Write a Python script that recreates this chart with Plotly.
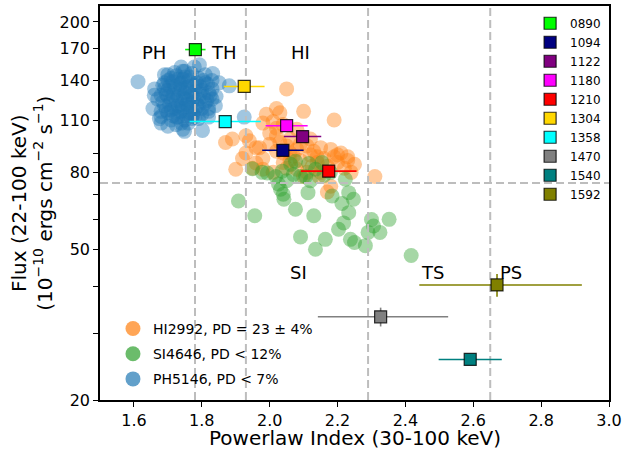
import numpy as np
import plotly.graph_objects as go

# ---- scatter clouds: powerlaw index vs 22-100 keV flux (1e-10 erg/cm2/s) ----
hi_index = [2.05, 2.02, 2.03, 2.10, 2.19, 1.98, 2.01, 1.87, 1.89, 1.94, 1.97, 1.92,
            1.90, 1.98, 2.02, 2.06, 2.11, 2.15, 2.21, 2.19, 2.25, 2.31, 2.14, 2.18,
            2.17, 2.08, 2.11, 2.04, 1.98, 2.01, 1.96, 2.145, 2.10, 2.125, 2.07, 2.05,
            2.00, 2.02, 1.99, 1.93, 1.96, 2.04, 2.08, 2.06, 2.12, 2.16, 2.20, 2.03, 1.95,
            2.06, 2.09, 2.13, 2.17, 2.20, 2.23, 2.05, 2.09, 2.14, 2.18, 2.24, 2.12,
            2.02, 2.00, 1.93, 2.08, 2.04, 2.15, 2.22, 2.23]
hi_flux = [133, 118, 115, 116, 110, 108, 109, 96, 98, 97, 93, 87,
           81.5, 87, 100, 98, 94, 93, 90, 88, 84, 78, 85, 73.5,
           71, 81.5, 80, 85, 81.5, 80, 84.7, 78, 78, 83, 88.4, 94,
           101.6, 104.7, 114, 90, 93, 90, 92, 86, 89, 87, 85, 96, 82,
           90, 86, 91, 83, 89, 86, 82, 95, 88, 92, 80, 98,
           91, 95, 100, 104, 107, 80, 82, 88]

si_index = [1.949, 1.993, 2.018, 2.037, 2.076, 2.115, 2.154, 2.135, 2.106, 2.179,
            2.032, 2.042, 2.076, 2.113, 1.908, 1.956, 2.130, 2.091, 2.164, 2.135,
            2.223, 2.184, 2.233, 2.247, 2.213, 2.233, 2.218, 2.203, 2.238, 2.250,
            2.282, 2.306, 2.325, 2.352, 2.417, 2.062, 1.978, 2.091, 2.026, 2.05,
            2.07, 2.12, 2.16, 2.30, 2.29, 2.04]
si_flux = [81.8, 79.7, 78, 80.6, 85.6, 84.4, 85, 81.5, 78, 80,
           72.2, 67.9, 63.9, 70.7, 67.2, 61.4, 61.4, 54, 53.2, 50.1,
           76.7, 69.3, 70.7, 67.9, 66.2, 62.6, 58.8, 56.6, 53.2, 52.2,
           51.2, 57.7, 55.5, 60.1, 48.2, 84, 80, 78, 74.5, 76,
           79, 76, 78.5, 60, 55.5, 70]

ph_index = [1.612, 1.690, 1.744, 1.778, 1.832, 1.851, 1.881, 1.661, 1.656, 1.675,
            1.700, 1.749, 1.802, 1.925, 1.820, 1.842, 1.817, 1.739, 1.793, 1.680,
            1.724, 1.744,
            1.68, 1.70, 1.72, 1.74, 1.76, 1.78, 1.80, 1.69, 1.71, 1.73,
            1.75, 1.77, 1.79, 1.81, 1.70, 1.72, 1.74, 1.76, 1.78, 1.80,
            1.73, 1.75, 1.77, 1.71, 1.75, 1.73, 1.79, 1.82, 1.83, 1.67,
            1.69, 1.71, 1.77, 1.81, 1.74, 1.76, 1.72, 1.78, 1.70, 1.74,
            1.75, 1.73, 1.77, 1.79, 1.71, 1.76, 1.68, 1.80, 1.82, 1.75,
            1.72, 1.78, 1.74, 1.69, 1.66, 1.84, 1.83, 1.81, 1.70,
            1.685, 1.695, 1.705, 1.715, 1.725, 1.735, 1.745, 1.755, 1.765, 1.775,
            1.785, 1.795, 1.805, 1.815, 1.825, 1.705, 1.715, 1.735, 1.755, 1.765,
            1.745, 1.725, 1.695, 1.785, 1.765, 1.735, 1.715, 1.755, 1.795, 1.805,
            1.685, 1.745, 1.775, 1.725, 1.79, 1.76, 1.70, 1.82, 1.83, 1.68]
ph_flux = [139, 145, 148, 152, 146, 138, 135.5, 133, 118, 111,
           106, 102.7, 103.3, 112, 116, 127, 137, 152, 154, 112.5,
           107, 104,
           128, 132, 135, 138, 140, 136, 132, 120, 124, 127,
           130, 128, 125, 122, 115, 118, 121, 119, 117, 114,
           112, 110, 111, 110, 143, 141, 142, 130, 125, 125,
           138, 142, 146, 138, 116, 124, 130, 131, 127, 133,
           125, 120, 122, 120, 117, 135, 116, 118, 118, 148,
           147, 112, 108, 133, 128, 120, 133, 145, 145,
           123, 129, 135, 139, 144, 132, 126, 121, 115, 126,
           138, 129, 127, 124, 128, 121, 113, 116, 113, 131,
           141, 124, 117, 121, 143, 137, 128, 134, 135, 140,
           136, 118, 114, 112, 111, 108, 140, 112, 140, 108]

# ---- individual observations with 1-sigma errors ----
obs_ids = ["0890", "1094", "1122", "1180", "1210", "1304", "1358", "1470", "1540", "1592"]
obs_colors = ["#00ff00", "#000080", "#800080", "#ff00ff", "#ff0000",
              "#ffd700", "#00ffff", "#808080", "#008080", "#808000"]
obs_index = [1.781, 2.039, 2.097, 2.050, 2.174, 1.925, 1.869, 2.327, 2.591, 2.670]
obs_index_err_lo = [0.03, 0.061, 0.055, 0.062, 0.082, 0.06, 0.105, 0.185, 0.093, 0.229]
obs_index_err_hi = [0.03, 0.061, 0.055, 0.062, 0.082, 0.06, 0.105, 0.199, 0.093, 0.250]
obs_flux = [169, 91.5, 99.5, 106.3, 80.6, 135, 109, 33.2, 25.6, 40.3]
obs_flux_err = [0, 0, 0, 0, 0, 0, 0, 1.9, 0, 2.8]

# ---- state boundaries ----
boundary_index = [1.78, 1.93, 2.29, 2.65]
boundary_flux = 75

state_labels = ["PH", "TH", "HI", "SI", "TS", "PS"]
state_label_index = [1.659, 1.864, 2.091, 2.086, 2.479, 2.710]
state_label_flux = [166, 166, 166, 43.5, 43.4, 43.4]

clouds = [
    ("HI2992, PD = 23 ± 4%", "#ff7f0e", hi_index, hi_flux),
    ("SI4646, PD < 12%", "#2ca02c", si_index, si_flux),
    ("PH5146, PD < 7%", "#1f77b4", ph_index, ph_flux),
]

x_range = [1.5, 3.0]
y_range_log = [np.log10(20), 2.3431]
y_major = [20, 50, 80, 110, 140, 170, 200]
y_minor = [30, 40, 60, 70, 90]
x_ticks = [1.6, 1.8, 2.0, 2.2, 2.4, 2.6, 2.8, 3.0]

FONT = "DejaVu Sans"
fig = go.Figure()

for name, color, xs, ys in clouds:
    fig.add_trace(go.Scatter(
        x=xs, y=ys, mode="markers", showlegend=False, hoverinfo="skip",
        marker=dict(size=15, color=color, opacity=0.42, line=dict(width=0)),
    ))

dash_style = dict(color="#bdbdbd", width=2, dash="8px,4px")
y_lo, y_hi = 10 ** y_range_log[0], 10 ** y_range_log[1]
for bx in boundary_index:
    fig.add_trace(go.Scatter(x=[bx, bx], y=[y_lo, y_hi], mode="lines",
                             line=dash_style, showlegend=False, hoverinfo="skip"))
fig.add_trace(go.Scatter(x=x_range, y=[boundary_flux, boundary_flux], mode="lines",
                         line=dash_style, showlegend=False, hoverinfo="skip"))

for i, oid in enumerate(obs_ids):
    fig.add_trace(go.Scatter(
        x=[obs_index[i]], y=[obs_flux[i]], mode="markers", name=oid, legend="legend",
        marker=dict(symbol="square", size=12, color=obs_colors[i],
                    line=dict(color="rgba(0,0,0,0.8)", width=1.2)),
        error_x=dict(type="data", symmetric=False, array=[obs_index_err_hi[i]],
                     arrayminus=[obs_index_err_lo[i]], color=obs_colors[i],
                     thickness=1.6, width=0),
        error_y=dict(type="data", array=[obs_flux_err[i]], color=obs_colors[i],
                     thickness=1.6, width=0, visible=obs_flux_err[i] > 0),
    ))

for k, (name, color, xs, ys) in enumerate(clouds):
    fig.add_trace(go.Scatter(
        x=[None], y=[None], mode="markers", name=name, legend="legend2",
        legendgroup=f"g{k}",
        marker=dict(size=15, color=color, opacity=0.7, line=dict(width=0)),
    ))

annotations = []
for lab, lx, ly in zip(state_labels, state_label_index, state_label_flux):
    annotations.append(dict(x=lx, y=np.log10(ly), xref="x", yref="y", text=lab,
                            showarrow=False, font=dict(family=FONT, size=18, color="black"),
                            xanchor="center", yanchor="middle"))
annotations.append(dict(x=0.5, y=-0.097, xref="paper", yref="paper",
                        text="Powerlaw Index (30-100 keV)", showarrow=False,
                        font=dict(family=FONT, size=20, color="black"),
                        xanchor="center", yanchor="middle"))
annotations.append(dict(x=-0.134, y=0.5, xref="paper", yref="paper", textangle=-90,
                        text="Flux (22-100 keV)<br>(10<sup>−10</sup> ergs cm<sup>−2</sup> s<sup>−1</sup>)",
                        showarrow=False, font=dict(family=FONT, size=20, color="black"),
                        xanchor="center", yanchor="middle"))

axis_common = dict(showline=True, linecolor="black", linewidth=1.5, mirror=True,
                   ticks="outside", ticklen=5, tickwidth=1.2, tickcolor="black",
                   showgrid=False, zeroline=False,
                   tickfont=dict(family=FONT, size=16, color="black"))

fig.update_layout(
    width=626, height=449,
    margin=dict(l=100, r=16, t=4, b=49),
    paper_bgcolor="white", plot_bgcolor="white",
    font=dict(family=FONT, color="black"),
    xaxis=dict(range=x_range, tickvals=x_ticks, ticktext=[f"{v:.1f}" for v in x_ticks],
               **axis_common),
    yaxis=dict(type="log", range=y_range_log, tickvals=y_major,
               ticktext=[str(v) for v in y_major],
               minor=dict(tickvals=y_minor, ticks="outside", ticklen=5, tickwidth=1.2,
                          tickcolor="black", showgrid=False),
               **axis_common),
    legend=dict(x=0.845, y=0.993, xanchor="left", yanchor="top",
                font=dict(family=FONT, size=12, color="black"),
                bgcolor="rgba(0,0,0,0)", borderwidth=0),
    legend2=dict(x=0.0255, y=0.221, xanchor="left", yanchor="top",
                 font=dict(family=FONT, size=14, color="black"),
                 bgcolor="rgba(0,0,0,0)", borderwidth=0,
                 traceorder="grouped", tracegroupgap=4),
    annotations=annotations,
)

fig.write_html("out.html", config={"displayModeBar": False})
